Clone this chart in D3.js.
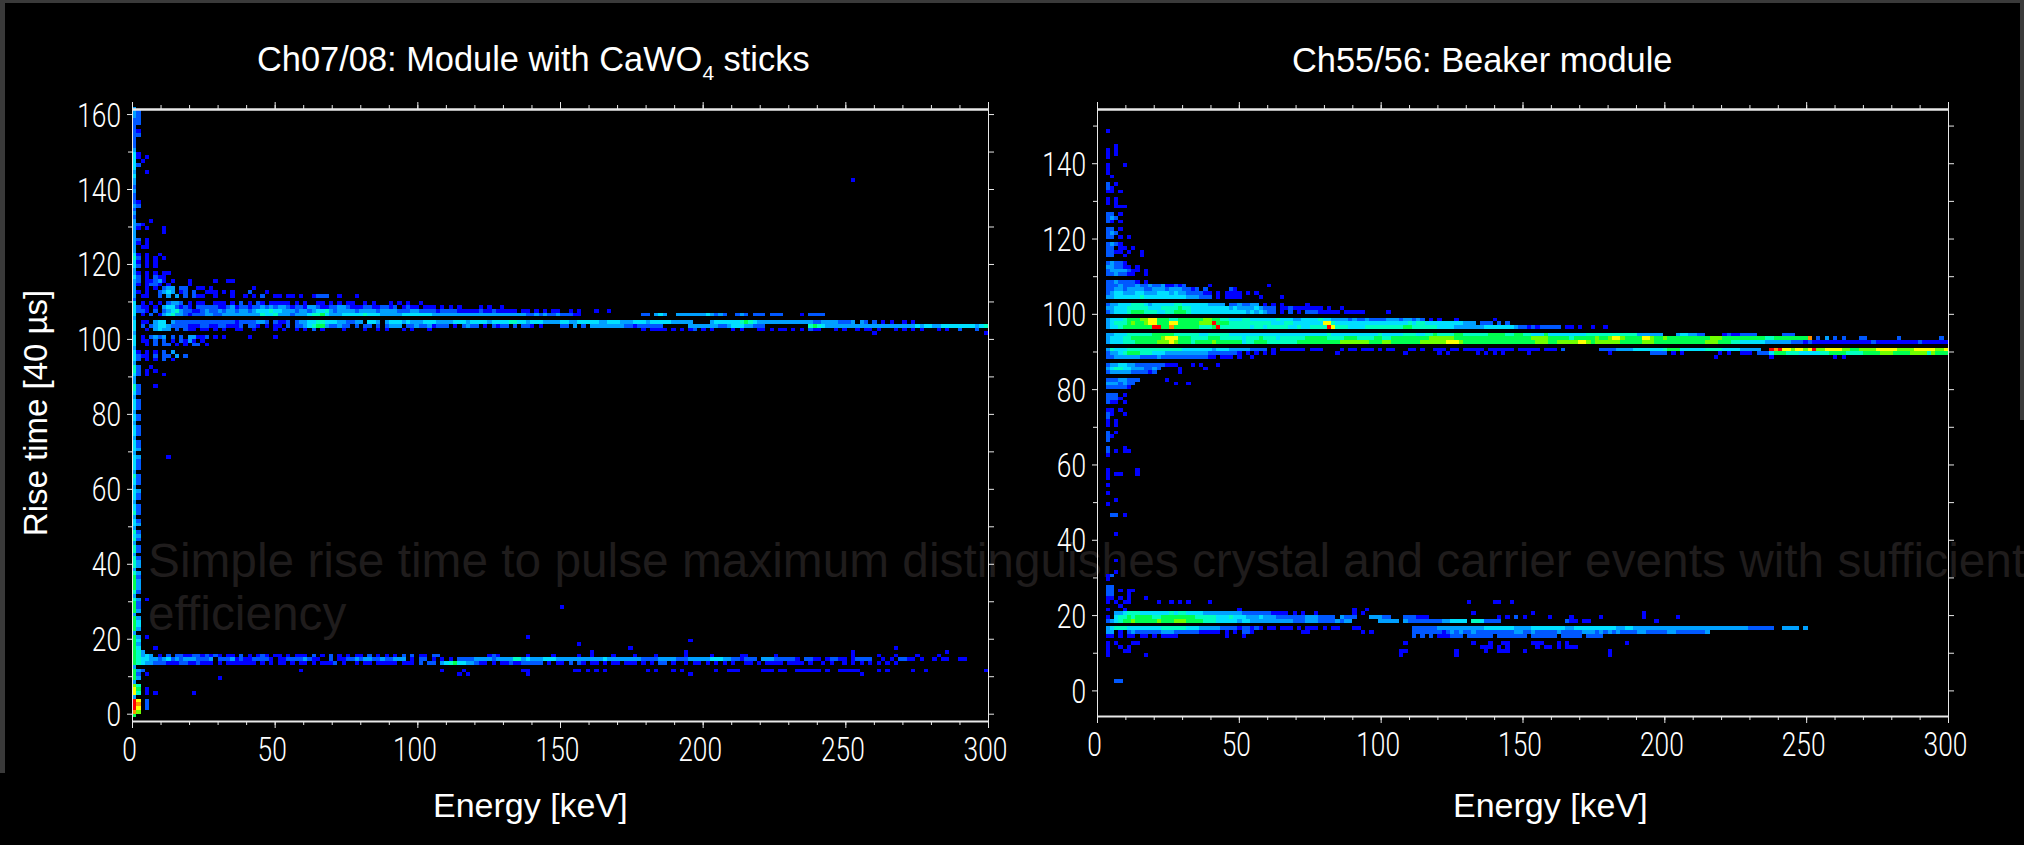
<!DOCTYPE html>
<html>
<head>
<meta charset="utf-8">
<script src="https://cdn.jsdelivr.net/npm/d3@7"></script>
<style>
  html, body { margin: 0; background: #000; overflow: hidden; }
</style>
</head>
<body>
<script>
// rows are [rise time bin, "energy bin:levels ..."], one energy bin is 1.5 keV, '.' is an empty bin
const leftCounts = [
  [161,"0:3"],[160,"0:32"],[159,"0:32"],[158,"0:22"],[157,"0:22"],[156,"0:2"],[155,"0:21"],[154,"0:22"],[153,"0:2"],[152,"0:2"],[151,"0:2"],[150,"0:3"],
  [149,"0:41"],[148,"0:41.1"],[147,"0:4.1"],[146,"0:42"],[145,"0:4"],[144,"0:3 3:1"],[143,"0:4"],[142,"0:3 168:1"],[141,"0:3"],[140,"0:2"],[139,"0:3"],[138,"0:2"],
  [137,"0:2"],[136,"0:21"],[135,"0:32"],[134,"0:2"],[133,"0:3"],[132,"0:2"],[131,"0:3 4:1"],[130,"0:321"],[129,"0:31.1 7:1"],[128,"0:3 7:1"],
  [127,"0:3"],[126,"0:32.1"],[125,"0:31.1"],[124,"0:3.11"],[123,"0:3"],[122,"0:41.1..1"],[121,"0:52.1.1.1"],[120,"0:41.1.1"],[119,"0:42 3:1.1"],[118,"0:3"],
  [117,"0:31.1.1.11"],[116,"0:42.1.211"],[115,"0:32.11231.1 13:1 19:1 22:11"],[114,"0:31.1221.1 13:1"],
  [113,"0:3..1.1.233.22..11.1 28:1"],[112,"0:31.1..2343.12.2..111.1.1...2...1"],[111,"0:3.11..2.3.3.2.211..1...1..1...1 28:1.2..11.11.1..1 43:222..1...1"],
  [110,"0:2"],
  [109,"0:4.1.1.1.2332.1.11..111.1.2.1.21.11111.1.1..11.1.1.11..1.1...1.1.1..1"],
  [108,"0:4211.1.3442121.22222112312212232323321221332112233211122112212.1211.111.1.1.1....1.1..1"],
  [107,"0:4221.2.23453221123223233233234445443332332344532333323333233332223322221222211111211211111.11.1.1.11..1.1...1..1"],
  [106,"0:4.1.2.134533212223322333333333544533323334556433344444544433333444444433333333333333333333332232322322211 119:22.343..333333343232..232.222.222....1.2222"],
  [105,"0:3"],
  [104,"0:4.11.344.32222222222222212222332.2112.2334455444332233.443.344434333444333344434444344445544344433334433444443344433344434444433333 135:3444444565433333333333332233332223.32.2.1.1..1.1"],
  [103,"0:4.2.2344322221112211221112.221.1.11.2.2234566322322.2.22.2.2333.2232231222.1.2322.1.2122.2.221.1 100:22.3.2.33333333221222222 130:333333322344433222 158:565433333333333333333333343443344444444345"],
  [102,"0:4..1.3433.2.211.11.1.1..11..1....1.1..1.1.2.1....1....1..1.1...1.1...1 119:1.1111.1.1.12.1.1....1.1...11.1.11.1.1 158:211...1.1..1.11.1...1.1.1.1...1.1..2...2"],
  [101,"0:3 172:.1 199:1"],
  [100,"0:4.1.2323.2.2.33.22.1.1 15:11..1 27:1 33:1"],[99,"0:4.11.2.2.1.2.31 12:1 16:1"],[98,"0:4..1.2.22.1.1.22.1"],
  [97,"0:3"],[96,"0:41.1.1.2.3"],[95,"0:4211.2.22.3.2"],[94,"0:42.1.1.2.1"],[93,"0:3"],[92,"0:52..1"],[91,"0:52.1.1"],[90,"0:42.1...1"],[89,"0:3"],
  [88,"0:3"],[87,"0:52...1"],[86,"0:52"],[85,"0:42"],[84,"0:3"],[83,"0:42"],[82,"0:42"],[81,"0:42"],[80,"0:3"],
  [79,"0:42"],[78,"0:42"],[77,"0:3"],[76,"0:42"],[75,"0:42"],[74,"0:42"],[73,"0:3"],[72,"0:42"],[71,"0:42"],[70,"0:43"],[69,"0:3"],[68,"0:43 8:1"],[67,"0:42"],[66,"0:42"],
  [65,"0:42"],[64,"0:3"],[63,"0:52"],[62,"0:42"],[61,"0:42"],[60,"0:3"],[59,"0:43"],[58,"0:42"],[57,"0:42"],[56,"0:3"],[55,"0:42"],[54,"0:42"],[53,"0:52"],[52,"0:3"],
  [51,"0:42"],[50,"0:43"],[49,"0:3"],[48,"0:52"],[47,"0:43"],[46,"0:52"],[45,"0:3"],[44,"0:52"],[43,"0:52"],[42,"0:3"],[41,"0:52"],[40,"0:53"],[39,"0:53"],[38,"0:3"],
  [37,"0:53"],[36,"0:62"],[35,"0:63"],[34,"0:63"],[33,"0:63"],[32,"0:52"],[31,"0:3"],[30,"0:53.1"],[29,"0:62"],[28,"0:62 100:1"],[27,"0:63"],[26,"0:3"],
  [25,"0:63"],[24,"0:64"],[23,"0:64"],[22,"0:63"],[21,"0:3"],[20,"0:63.1 92:1"],[19,"0:64 130:1"],[18,"0:63 104:1"],[17,"0:64 5:1 116:1 178:1"],
  [16,"0:65 2:3 107:1 129:1 168:1 190:1"],
  [15,"0:65343.1.2.22112112 15:2 18:121.11.2.1.121.11.1.111.2.1.2.1 50:1.11.2.1.1.1.2.2.11.22 83:121 92:1 98:1 104:1 107:1 112:1 117:1 122:1 129:1 135:1 142:11 150:1 168:1 174:1 178:1 183:1 188:1"],
  [14,"0:6544332342323332223.2223121122221.1122223211..2.1122323322322333.1.22.1.1.1.2222333323333553433344433333333333433333333222233332223333344433221222.333222221.2211.12211.12222..1.1.2211.1..1.11..11"],
  [13,"0:6543322211122112111.1.1111111.1.1.11.1.11.1.1112.1..1.11.11111.111.2.22.34564433211.1.1121122222.1.11.2.21.11.1.11.111.1.1.22.1..1.11.1.1.1.1..11.1.1111.1111.1..1.1..1.1.1.1.1.1.1"],
  [12,"0:3"],
  [11,"0:632 39:1 72:1 77:1 91:11 103:11.1.1.1 120:1.1 126:1.1 136:1 139:111 147:111.11 155:111111 162:1 165:11111 174:1.1 182:1..1 199:1"],
  [10,"0:62.1 76:1.1 92:1 130:1 170:1"],[9,"0:63 20:1"],[8,"0:3"],[7,"0:75"],[6,"0:86.1"],[5,"0:85.1 5:1 14:1"],[4,"0:3"],[3,"0:a8.2"],[2,"0:a9.2"],[1,"0:a8.2"],[0,"0:97"],[-1,"0:6"]
];

const rightCounts = [
  [148,"2:1"],[144,"3:.1"],[143,"2:1.1"],[142,"2:1.1"],[141,"2:1"],[139,"2:1...1"],[138,"2:1"],[137,"2:1"],[136,"3:1"],[134,"2:2.1"],[133,"2:21"],[132,"2:11.1"],
  [130,"2:1.1"],[129,"2:1.1"],[128,"4:111"],[126,"2:22.1"],[125,"2:232"],[124,"2:21.1"],[122,"2:22.1"],[121,"2:232"],[120,"2:22.1.1"],
  [118,"2:2321"],[117,"2:22.11.1"],[116,"2:2211.1..1"],[115,"2:22..1...1"],
  [113,"2:23221"],[112,"2:332211.1"],[111,"2:23333211.1"],[110,"2:2232211..1"],
  [108,"2:22322221.1"],[107,"2:2223222322322311212.....1 40:1"],
  [106,"2:2233233332233323332212.2 31:21"],
  [105,"2:2344333443334443433222211.1.1111.1.1"],
  [104,"2:3344444454444444444333222.1.11 32:11 38:1 43:1"],
  [103,""],
  [102,"2:2334445554344444554444443333.2232233.1.1 43:1 49:1"],
  [101,"2:3344455555444555565544444444434333343222.1121111.1 49:11.1.1 57:1"],
  [100,"2:2344456665554455666544444444444443434322.1.2.1.1.1111 49:2221.111.1.1.1 59:1.1 68:1"],
  [99,""],
  [98,"2:344456667788666556666667766554445544444454443344445443333232232222333233232.1.1 84:1 93:1"],
  [97,"2:3455567667886668866666777a6665555555555444554444444885444444444444444445455444444444333.222.2.2"],
  [96,"2:34456666666aa6696666665556a5555555455455555445445555a85554444555555555665555554444333333344444443222222322 101:1.1.2222.11.1..1 116:1 119:1"],
  [95,""],
  [94,"2:33444555555666665555554455555444444444444444444444445444444444445444445554455655556655555566665566554446444444444555555 118:5555555553 128:33333 136:3443322 147:1211 151:2222 161:222"],
  [93,"2:34445566666667888666555566655555455565554555555666665555666555566556666666667777776666666666666666667777666665666667 118:66788766668876676666666666777666666666655666666669 169:2 171:3 173:2 175:2 179:22 188:2 198:2"],
  [92,"2:34445556666677787666566667666666455666555555566666666667777777666776666666777777888766666666666666666777667777788767 118:77777666667776666666666667776665544 153:4444333333222 166:1211111111111111211111111112111111"],
  [91,""],
  [90,"2:35444555555555555544444443444333332222.1.1.1 43:11.111.111 57:1.11.111.1.11 73:11.1 79:111.11.11111.111 92:111111.11111.111.2 118:2222333344444445666444444555544 149:4433333 158:a9a8878878a 169:7788887766777788888777788888778"],
  [89,"2:23345666555444333333333322222221.1.1.1 41:1 56:1 72:1 80:1.1 89:1.1.1 95:1 101:1 120:1 130:2222.1.1 146:1.1 151:111.222 158:46665554444 169:4556666555566667776666777757 197:666"],
  [88,"2:22333333222232222222222211.1.1.1 30:1 36:1 145:1 158:1 173:1.1"],
  [87,""],
  [86,"2:2334433222222211 18:1 22:1.1 28:1"],
  [85,"2:3455443332232 19:1 25:1"],
  [84,"2:233333222212 19:1"],
  [83,""],
  [82,"2:22233222 16:1"],[81,"2:3332322 18:1 21:1"],[80,"2:222221"],
  [78,"2:222.1"],[77,"2:2221"],[76,"2:211.1"],[74,"2:11.1"],[73,"2:21..1"],[72,"2:2"],[71,"2:1.1"],[70,"2:1.1"],
  [68,"2:2.1"],[67,"2:21"],[66,"2:2"],[64,"2:2 6:1"],[63,"2:2.1.11"],[62,"2:1"],[58,"2:1 9:1"],[57,"2:1.11 9:1"],[56,"2:1"],[54,"2:1"],[52,"2:1"],[50,"4:1"],[49,"2:1"],
  [46,"3:22 6:1"],[41,"3:.1"],[34,"4:1"],[31,"4:1"],[30,"2:12"],[29,"2:1"],
  [27,"2:22"],[26,"2:22.1.1 8:1"],[25,"2:22 7:1"],[24,"2:11.1.1 11:1"],[23,"2:1.1.11 14:1 17:1 19:1 21:1 26:1 87:1 93:11 97:1"],
  [22,"5:1"],[21,"2:1 5:.1 33:1 63:1 60:1"],
  [20,"4:33455544444445455444433333333322222211111.1.1 40:2111 51:1 60:1 61:.1 88:1 102:1 128:1"],
  [19,"2:1.4556566665566666666555554445444333433322222223332222.3222 64:33322 72:222111 93:.1.1.2.1 106:1 111:1 118:1 128:1 136:1"],
  [18,"2:2345667666667666777666655544444344333333333322233322223233 66:33333 72:322222222334444 88:5542222 110:211.11 130:.1"],
  [17,""],
  [16,"2:3455544444444555555444333332222122122.1 38:1.11.111.1.11 49:111.1.11 60:11 74:2222223333333333344444443333444444443344444444443344333333333333333333333333333222222 160:.3333.3"],
  [15,"2:33.1.2322222233322222211111.1.1.222 36:1 48:11 62:1.1 74:2222222123232232222222223322322222322222333232323222233222223322222223"],
  [14,"2:11.1.11.11.1.1111 30:1 34:1 74:2.2.2.2 80:111222.222222.2222222.222222.22222.2222"],
  [13,""],
  [12,"2:1.1...11 72:1 87:.1 92:1 95:11 102:111 108:1.1 124:1"],
  [11,"2:1..1.1 90:111.1.1 103:1.11.1.111"],[10,"2:1 6:11 71:11 84:1 91:1 94:111 100:1 120:1"],[9,"2:1 11:1 71:1 84:1 120:1"],
  [2,"4:22"]
];

const xTicks = [0, 50, 100, 150, 200, 250, 300];
const xMinorTicks = d3.range(0, 301, 10);
const leftYTicks = [0, 20, 40, 60, 80, 100, 120, 140, 160];
const leftYMinor = [10, 30, 50, 70, 90, 110, 130, 150];
const rightYTicks = [0, 20, 40, 60, 80, 100, 120, 140];
const rightYMinor = [10, 30, 50, 70, 90, 110, 130, 150];

const binWidth = 1.5;
const width = 2024;
const height = 845;

const color = d3.scaleLinear()
  .domain([1, 2, 3, 4, 5, 6, 7, 8, 9, 10])
  .range(["#0000ff", "#0058ff", "#00a0ff", "#00e0ff", "#00ffc0", "#00ff50", "#70ff00", "#ffff00", "#ff9000", "#ff0000"]);

const svg = d3.select("body").append("svg")
  .attr("width", width)
  .attr("height", height)
  .style("display", "block")
  .style("font-family", "'Liberation Sans', Arial, sans-serif");

svg.append("rect").attr("width", width).attr("height", height).attr("fill", "#000");

// slide frame
svg.append("rect").attr("width", width).attr("height", 3).attr("fill", "#3a3a3a");
svg.append("rect").attr("width", 5).attr("height", 773).attr("fill", "#3a3a3a");
svg.append("rect").attr("x", 2020).attr("width", 4).attr("height", 420).attr("fill", "#3a3a3a");

// slide body text sits behind the plots
const bodyText = svg.append("g").attr("fill", "#1f1c1c").attr("font-size", 47.8);
bodyText.append("text").attr("x", 148).attr("y", 577)
  .text("Simple rise time to pulse maximum distinguishes crystal and carrier events with sufficient");
bodyText.append("text").attr("x", 148).attr("y", 630).text("efficiency");

function parseCells(rows) {
  const cells = [];
  rows.forEach(([rise, spec]) => {
    spec.split(" ").filter(Boolean).forEach(token => {
      const [start, levels] = token.split(":");
      [...levels].forEach((c, i) => {
        if (c !== ".") cells.push({ rise, bin: +start + i, level: parseInt(c, 16) });
      });
    });
  });
  return cells.filter(d => d.bin < 200);
}

function drawPlot(opt) {
  const x = d3.scaleLinear().domain([0, 300]).range([opt.left, opt.right]);
  const y = d3.scaleLinear().domain(opt.yDomain).range([opt.bottom, opt.top]);
  const g = svg.append("g");

  g.selectAll("rect.cell")
    .data(parseCells(opt.rows))
    .join("rect")
    .attr("class", "cell")
    .attr("x", d => x(d.bin * binWidth))
    .attr("width", x(binWidth) - x(0))
    .attr("y", d => y(d.rise + 1))
    .attr("height", d => y(d.rise) - y(d.rise + 1))
    .attr("fill", d => color(d.level))
    .attr("shape-rendering", "crispEdges");

  function axis(gen, tx, ty, size, values, labels) {
    const a = g.append("g")
      .attr("transform", "translate(" + tx + "," + ty + ")")
      .call(gen.tickValues(values).tickSize(size).tickSizeOuter(0).tickFormat(labels ? d3.format("d") : ""));
    a.selectAll("line").attr("stroke", "#e8e8e8").attr("stroke-width", 1);
    a.selectAll("path").attr("stroke", "#e8e8e8");
    return a;
  }

  // bottom and top: minor then major ticks
  axis(d3.axisTop(x), 0, opt.top, 4, xMinorTicks).select("path").attr("stroke-width", 2.5);
  axis(d3.axisTop(x), 0, opt.top, 7, xTicks);
  axis(d3.axisBottom(x), 0, opt.bottom, 4, xMinorTicks).select("path").attr("stroke-width", 2);
  const xAxis = axis(d3.axisBottom(x), 0, opt.bottom, 7, xTicks, true);
  xAxis.selectAll("text").each(function () { styleTick(d3.select(this), "middle"); })
    .attr("y", 0).attr("dy", 0)
    .attr("transform", d => "translate(-3," + opt.labelY + ")");

  axis(d3.axisLeft(y), opt.left, 0, 4, opt.yMinor);
  const yAxis = axis(d3.axisLeft(y), opt.left, 0, 5, opt.yTicks, true);
  yAxis.selectAll("text").each(function () { styleTick(d3.select(this), "end"); })
    .attr("x", -11).attr("dy", 0)
    .attr("y", 12);

  axis(d3.axisRight(y), opt.right, 0, 6, opt.yMinor);
  axis(d3.axisRight(y), opt.right, 0, 6, opt.yTicks);

  // titles
  const title = g.append("text")
    .attr("x", (opt.titleX))
    .attr("y", opt.titleY)
    .attr("fill", "#fff")
    .attr("font-size", 34.4);
  opt.title.forEach(part => {
    title.append("tspan")
      .text(part.text)
      .attr("font-size", part.sub ? 21 : null)
      .attr("dy", part.sub ? 9 : part.after ? -9 : null);
  });

  g.append("text")
    .attr("x", opt.xLabelX)
    .attr("y", 817)
    .attr("fill", "#fff")
    .attr("font-size", 34)
    .text("Energy [keV]");
}

function styleTick(t, anchor) {
  const s = t.text();
  t.attr("text-anchor", anchor)
    .attr("fill", "#fff")
    .attr("font-family", "Roboto, 'Liberation Sans', sans-serif")
    .attr("font-weight", 300)
    .attr("font-size", 33)
    .attr("lengthAdjust", "spacingAndGlyphs")
    .attr("textLength", s.length * 14.6);
}

drawPlot({
  rows: leftCounts,
  left: 132, right: 988, top: 109, bottom: 721,
  yDomain: [-1.95, 161.35],
  yTicks: leftYTicks, yMinor: leftYMinor,
  labelY: 40,
  title: [
    { text: "Ch07/08: Module with CaWO" },
    { text: "4", sub: true },
    { text: " sticks", after: true }
  ],
  titleX: 257, titleY: 71,
  xLabelX: 433
});

drawPlot({
  rows: rightCounts,
  left: 1097, right: 1948, top: 109, bottom: 716,
  yDomain: [-6.8, 154.4],
  yTicks: rightYTicks, yMinor: rightYMinor,
  labelY: 40,
  title: [{ text: "Ch55/56: Beaker module" }],
  titleX: 1292, titleY: 72,
  xLabelX: 1453
});

svg.append("text")
  .attr("transform", "translate(47,413) rotate(-90)")
  .attr("text-anchor", "middle")
  .attr("fill", "#fff")
  .attr("font-size", 33)
  .text("Rise time [40 µs]");
</script>
</body>
</html>
